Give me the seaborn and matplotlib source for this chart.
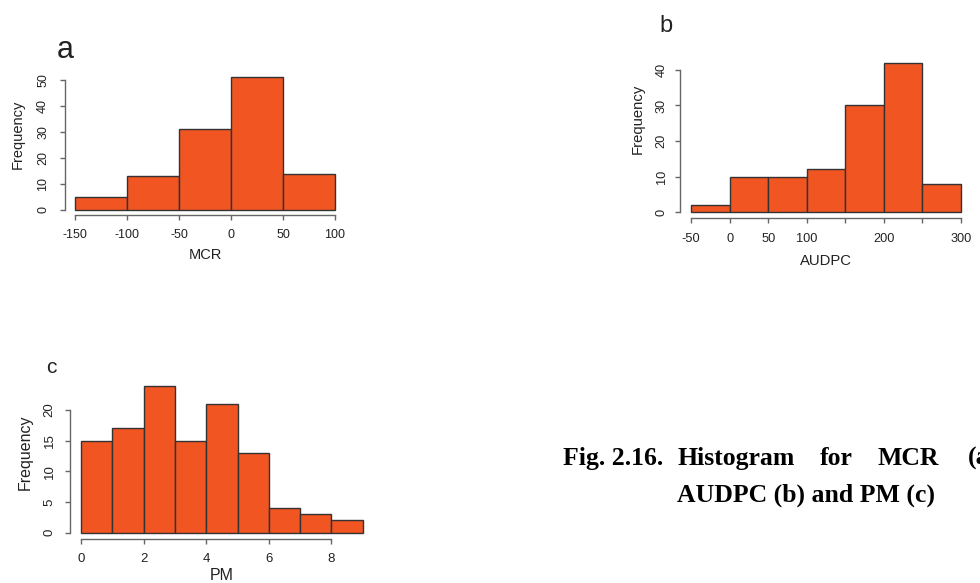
import matplotlib
matplotlib.use("Agg")
import matplotlib.pyplot as plt
import seaborn as sns
import numpy as np
import pandas as pd

# ---- data ----
mcr_edges = [-150, -100, -50, 0, 50, 100]
mcr_counts = [5, 13, 31, 51, 14]
audpc_edges = [-50, 0, 50, 100, 150, 200, 250, 300]
audpc_counts = [2, 10, 10, 12, 30, 42, 8]
pm_edges = [0, 1, 2, 3, 4, 5, 6, 7, 8, 9]
pm_counts = [15, 17, 24, 15, 21, 13, 4, 3, 2]

mcr_xticks = [-150, -100, -50, 0, 50, 100]
mcr_xticklabels = ["-150", "-100", "-50", "0", "50", "100"]
mcr_yticks = [0, 10, 20, 30, 40, 50]
audpc_xticks = [-50, 0, 50, 100, 150, 200, 250, 300]
audpc_xticklabels = ["-50", "0", "50", "100", "", "200", "", "300"]
audpc_yticks = [0, 10, 20, 30, 40]
pm_xticks = [0, 2, 4, 6, 8]
pm_xticklabels = ["0", "2", "4", "6", "8"]
pm_yticks = [0, 5, 10, 15, 20]

panel_letters = ["a", "b", "c"]
xlabels = ["MCR", "AUDPC", "PM"]
caption_line1 = ["Fig. 2.16.", "Histogram", "for", "MCR", "(a"]
caption_line2 = "AUDPC (b) and PM (c)"

sns.set_style("ticks")
plt.rcParams["font.family"] = ["Liberation Sans", "DejaVu Sans"]

W, H = 980, 583
fig = plt.figure(figsize=(W / 100, H / 100), dpi=100)

BAR = "#F05522"
EDGE = "#333333"
AX = "#666666"


def make_ax(box, xlim, ylim):
    l, t, r, b = box
    ax = fig.add_axes([l / W, 1 - b / H, (r - l) / W, (b - t) / H])
    return ax, xlim, ylim


def draw(axinfo, edges, counts, xticks, xticklabels, yticks, xlabel, fs_tick, fs_lab, xpad, ypad, xlabpad, ylab_xy):
    ax, xlim, ylim = axinfo
    centers = [(a + b) / 2 for a, b in zip(edges[:-1], edges[1:])]
    df = pd.DataFrame({"value": centers, "count": counts})
    sns.histplot(data=df, x="value", weights="count", bins=list(edges), ax=ax, color=BAR,
                 edgecolor=EDGE, linewidth=1.0, alpha=1.0)
    ax.set_xlim(*xlim)
    ax.set_ylim(*ylim)
    ax.set_xticks(xticks)
    ax.set_xticklabels(xticklabels)
    ax.set_yticks(yticks)
    ax.set_yticklabels([str(v) for v in yticks], rotation=90, va="center")
    for s in ["top", "right"]:
        ax.spines[s].set_visible(False)
    ax.spines["left"].set_bounds(yticks[0], yticks[-1])
    ax.spines["bottom"].set_bounds(xticks[0], xticks[-1])
    for s in ["left", "bottom"]:
        ax.spines[s].set_color(AX)
        ax.spines[s].set_linewidth(1.0)
    ax.tick_params(axis="x", length=3.6, width=1.0, color=AX, labelsize=fs_tick, pad=xpad, labelcolor="#222222")
    ax.tick_params(axis="y", length=3.6, width=1.0, color=AX, labelsize=fs_tick, pad=ypad, labelcolor="#222222")
    ax.set_xlabel(xlabel, fontsize=fs_lab, color="#222222", labelpad=xlabpad)
    ax.set_ylabel("Frequency", fontsize=fs_lab, color="#222222")
    ax.yaxis.set_label_coords(*ylab_xy)
    ax.set_facecolor("none")
    ax.grid(False)


axa = make_ax((64.6, 72.1, 345.4, 215.3), (-160, 110), (-2.04, 53.04))
draw(axa, mcr_edges, mcr_counts, mcr_xticks, mcr_xticklabels, mcr_yticks, xlabels[0], 9, 10.5, 6, 7.5, 5, (-0.141, 0.568))

axb = make_ax((680.2, 56.9, 971.8, 218.0), (-64, 314), (-1.68, 43.68))
draw(axb, audpc_edges, audpc_counts, audpc_xticks, audpc_xticklabels, audpc_yticks, xlabels[1], 9.2, 10.7, 7.5, 5.5, 6, (-0.121, 0.614))

axc = make_ax((69.7, 379.7, 374.0, 538.5), (-0.36, 9.36), (-0.96, 24.96))
draw(axc, pm_edges, pm_counts, pm_xticks, pm_xticklabels, pm_yticks, xlabels[2], 9.5, 11.5, 7.2, 6.5, 1.8, (-0.120, 0.545))


def ftext(x, y, s, **kw):
    fig.text(x / W, 1 - y / H, s, **kw)


ftext(57, 58, panel_letters[0], fontsize=22, va="baseline", ha="left", color="#222222")
ftext(659, 32, panel_letters[1], fontsize=17, va="baseline", ha="left", color="#222222")
ftext(46, 373, panel_letters[2], fontsize=15, va="baseline", ha="left", color="#222222")

cap_x = [563, 677, 820, 877, 968]
for x, w in zip(cap_x, caption_line1):
    ftext(x, 465, w, fontsize=18.5, fontweight="bold", family=["Liberation Serif", "DejaVu Serif"],
          va="baseline", ha="left", color="black")
ftext(677, 502, caption_line2, fontsize=18.5, fontweight="bold", family=["Liberation Serif", "DejaVu Serif"],
      va="baseline", ha="left", color="black")

fig.savefig("out.png", dpi=100, facecolor="white")
